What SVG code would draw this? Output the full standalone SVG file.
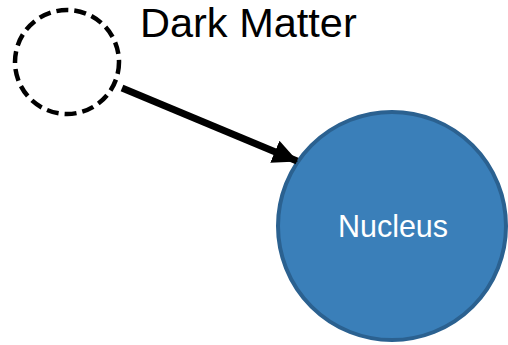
<svg xmlns="http://www.w3.org/2000/svg" width="508" height="345" viewBox="0 0 508 345">
<style>
.lbl{font-family:"Liberation Sans",Arial,sans-serif;}
.dm{fill:none;stroke:#000;stroke-width:4.5;stroke-dasharray:12 6;}
.nuc{fill:#3a7fb9;stroke:#2b6190;stroke-width:4;}
.conn{stroke:#000;stroke-width:7;fill:none;}
</style>
<defs>
<marker id="ah" markerUnits="userSpaceOnUse" markerWidth="26" markerHeight="26" viewBox="0 0 26 26" refX="24" refY="13" orient="auto">
<path d="M0,1 L25,13 L0,25 Z" fill="#000"/>
</marker>
</defs>
<g id="dark-matter">
<circle class="dm" cx="67" cy="62" r="52"/>
<text class="lbl" x="140" y="37" font-size="41.5" fill="#000">Dark Matter</text>
</g>
<g id="nucleus">
<circle class="nuc" cx="392" cy="226" r="114"/>
<text class="lbl" x="393" y="237" font-size="30.5" fill="#fff" text-anchor="middle">Nucleus</text>
</g>
<g id="connectors">
<line class="conn" x1="122" y1="88" x2="297" y2="161" marker-end="url(#ah)"/>
</g>
</svg>
